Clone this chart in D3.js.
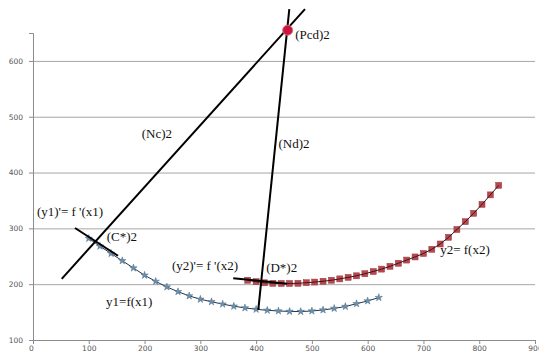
<!DOCTYPE html>
<html><head><meta charset="utf-8">
<script src="https://cdn.jsdelivr.net/npm/d3@7/dist/d3.min.js"></script>
<style>
html,body{margin:0;padding:0;background:#fff;}
svg{display:block;}
.ax text{font-family:"DejaVu Sans",sans-serif;font-size:7.5px;fill:#555;}
.lbl{font-family:"Liberation Serif","Times New Roman",serif;font-size:13px;fill:#111;}
</style></head>
<body>
<svg id="c" width="539" height="354"></svg>
<script>
// ---- data ----
const xTicks = [0,100,200,300,400,500,600,700,800,900];
const yTicks = [100,200,300,400,500,600];
const x1 = [100,120,140,160,180,200,220,240,260,280,300,320,340,360,380,400,420,440,460,480,500,520,540,560,580,600,620];
const y1 = [282,268,255,242,229,216,205,195,186.5,179,173,168.5,164.3,160.5,157.5,155,153.2,152,151.2,151,152,153.8,156.6,160,165,170,176];
const x2 = [385,400,415,430,445,460,475,490,505,520,535,550,565,580,595,610,625,640,655,670,685,700,715,730,745,760,775,790,805,820,835];
const y2 = [207,204.5,202.5,201.6,201.3,201.3,201.6,202.6,203.8,205.2,207,209.5,212.2,215,218.7,222.7,227,232,237.5,243.2,248.8,255,262.5,272,284,298,312,327,343,360,377];
const ncLine = [[51.5,209.6],[487.6,692.8]];
const ndLine = [[459.5,692.8],[403.9,153.9]];
const tan1 = [[75.3,300.6],[152.4,250.9]];
const tan2 = [[359,210.8],[455.4,200.6]];
const pcd = [456.6,655];
const labels = [
  {t:"(Pcd)2", x:470, y:640},
  {t:"(Nc)2", x:195, y:462},
  {t:"(Nd)2", x:440, y:444},
  {t:"(y1)'= f '(x1)", x:7, y:322},
  {t:"(C*)2", x:132, y:278},
  {t:"(y2)'= f '(x2)", x:249, y:225},
  {t:"(D*)2", x:418, y:222},
  {t:"y1=f(x1)", x:131, y:161},
  {t:"y2= f(x2)", x:730, y:254}
];

// ---- chart ----
const svg = d3.select("#c");
svg.append("rect").attr("width",539).attr("height",354).attr("fill","#fff");
const x = d3.scaleLinear().domain([0,900]).range([33,535]);
const y = d3.scaleLinear().domain([100,650]).range([340,33]);

// gridlines
svg.append("g").attr("transform","translate(33,0)")
  .call(d3.axisLeft(y).tickValues(yTicks.slice(1)).tickSize(-(535-33)).tickFormat(""))
  .call(g=>g.select(".domain").remove())
  .call(g=>g.selectAll("line").attr("stroke","#a6a6a6").attr("stroke-width",1));

// axes
const ay = svg.append("g").attr("class","ax").attr("transform","translate(33,0)")
  .call(d3.axisLeft(y).tickValues(yTicks).tickSize(4).tickPadding(6));
const axx = svg.append("g").attr("class","ax").attr("transform","translate(0,340)")
  .call(d3.axisBottom(x).tickValues(xTicks).tickSize(4).tickPadding(2));
svg.selectAll(".ax .domain").attr("stroke","#8c8c8c");
svg.selectAll(".ax .tick line").attr("stroke","#8c8c8c");
axx.select(".tick text").attr("dx","-2");

const line = d3.line().x(d=>x(d[0])).y(d=>y(d[1]));
const s1 = x1.map((v,i)=>[v,y1[i]]);
const s2 = x2.map((v,i)=>[v,y2[i]]);

// series 1
svg.append("path").datum(s1).attr("d",line).attr("fill","none").attr("stroke","#1f3550").attr("stroke-width",1);
svg.append("g").selectAll("path").data(s1).join("path")
  .attr("transform",d=>`translate(${x(d[0])},${y(d[1])})`)
  .attr("d",d3.symbol(d3.symbolStar,17))
  .attr("fill","#6f8fa8").attr("stroke","#4d6f8a").attr("stroke-width",0.5);
// series 2
svg.append("g").selectAll("rect").data(s2).join("rect")
  .attr("x",d=>x(d[0])-3).attr("y",d=>y(d[1])-3).attr("width",6).attr("height",6)
  .attr("fill","#b9474f").attr("stroke","#9b3a42").attr("stroke-width",0.5);
svg.append("path").datum(s2).attr("d",line).attr("fill","none").attr("stroke","#3a1518").attr("stroke-width",1);

// construction lines
[ncLine, ndLine, tan1, tan2].forEach(L=>{
  svg.append("path").datum(L).attr("d",line).attr("stroke","#000").attr("stroke-width",2).attr("fill","none");
});

// Pcd point
svg.append("circle").attr("cx",x(pcd[0])).attr("cy",y(pcd[1])).attr("r",5)
  .attr("fill","#c8163f").attr("stroke","#e06c85").attr("stroke-width",1);

// labels
svg.append("g").selectAll("text").data(labels).join("text").attr("class","lbl")
  .attr("x",d=>x(d.x)).attr("y",d=>y(d.y)).text(d=>d.t);
</script>
</body></html>
